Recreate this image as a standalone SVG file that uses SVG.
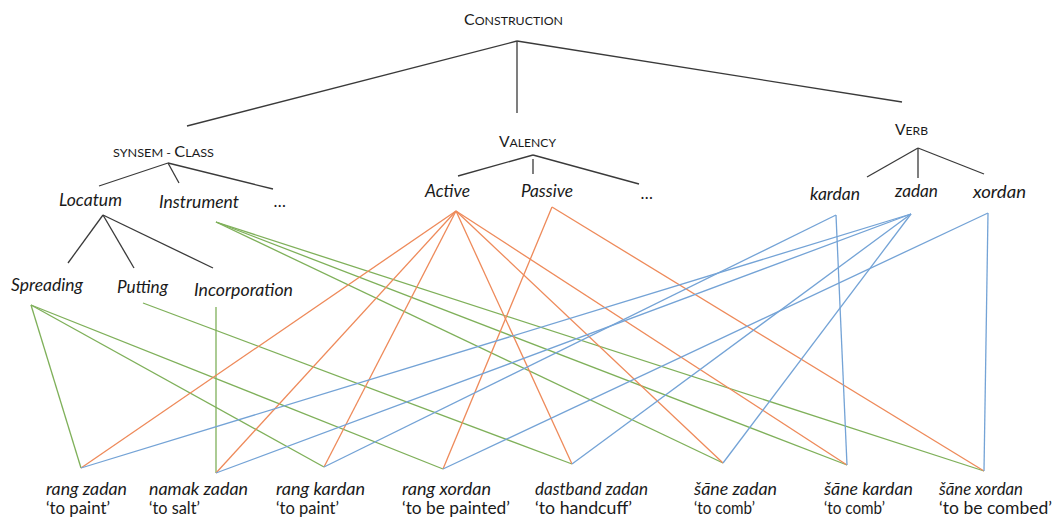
<svg xmlns="http://www.w3.org/2000/svg" width="1061" height="522" viewBox="0 0 1061 522">
<style>
text{font-family:Lato,"Open Sans","Liberation Sans",sans-serif;fill:#1a1a1a}
.sc{font-size:15.5px}
.sm{font-size:12px}
.it{font-size:16.5px;font-style:italic}
.bl{font-size:17px;font-style:italic}
.gl{font-size:17px}
.tree line{stroke:#3a3a3a;stroke-width:1.3}
.g{stroke:#7fb05a;stroke-width:1.3;fill:none}
.o{stroke:#ee8a5a;stroke-width:1.3;fill:none}
.b{stroke:#74a3d6;stroke-width:1.3;fill:none}
</style>
<rect width="1061" height="522" fill="#ffffff"/>
<g id="tree-edges" class="tree">
<line x1="517" y1="41" x2="187" y2="126"/>
<line x1="517" y1="41" x2="517" y2="113"/>
<line x1="517" y1="41" x2="902" y2="102"/>
<line x1="168" y1="163" x2="99" y2="186"/>
<line x1="168" y1="163" x2="179" y2="183"/>
<line x1="168" y1="163" x2="273" y2="189"/>
<line x1="103" y1="215" x2="68" y2="263"/>
<line x1="103" y1="215" x2="134" y2="268"/>
<line x1="103" y1="215" x2="213" y2="268"/>
<line x1="533" y1="155" x2="458" y2="176"/>
<line x1="533" y1="159" x2="533" y2="174"/>
<line x1="533" y1="155" x2="639" y2="184"/>
<line x1="918" y1="148" x2="867" y2="177"/>
<line x1="918" y1="148" x2="918" y2="178"/>
<line x1="918" y1="148" x2="984" y2="174"/>
</g>
<g id="connectors">
<g id="green">
<line class="g" x1="31" y1="305" x2="81" y2="468"/>
<line class="g" x1="31" y1="305" x2="324" y2="467"/>
<line class="g" x1="31" y1="305" x2="443" y2="469"/>
<line class="g" x1="143" y1="303" x2="572" y2="464"/>
<line class="g" x1="216" y1="307" x2="216" y2="473"/>
<line class="g" x1="216" y1="222" x2="723" y2="463"/>
<line class="g" x1="216" y1="222" x2="847" y2="465"/>
<line class="g" x1="216" y1="222" x2="984" y2="471"/>
</g>
<g id="orange">
<line class="o" x1="456" y1="211" x2="81" y2="468"/>
<line class="o" x1="456" y1="211" x2="216" y2="473"/>
<line class="o" x1="456" y1="211" x2="324" y2="467"/>
<line class="o" x1="456" y1="211" x2="572" y2="464"/>
<line class="o" x1="456" y1="211" x2="723" y2="463"/>
<line class="o" x1="456" y1="211" x2="847" y2="465"/>
<line class="o" x1="552" y1="207" x2="443" y2="469"/>
<line class="o" x1="552" y1="207" x2="984" y2="471"/>
</g>
<g id="blue">
<line class="b" x1="836" y1="215" x2="324" y2="467"/>
<line class="b" x1="836" y1="215" x2="847" y2="465"/>
<line class="b" x1="911" y1="214" x2="81" y2="468"/>
<line class="b" x1="911" y1="214" x2="216" y2="473"/>
<line class="b" x1="911" y1="214" x2="572" y2="464"/>
<line class="b" x1="911" y1="214" x2="723" y2="463"/>
<line class="b" x1="988" y1="213" x2="443" y2="469"/>
<line class="b" x1="988" y1="213" x2="984" y2="471"/>
</g>
</g>
<g id="n-construction"><text x="464" y="25" textLength="99" lengthAdjust="spacingAndGlyphs"><tspan class="sc">C</tspan><tspan class="sm">ONSTRUCTION</tspan></text></g>
<g id="n-synsem"><text x="113" y="157" textLength="101" lengthAdjust="spacingAndGlyphs"><tspan class="sm">SYNSEM - </tspan><tspan class="sc">C</tspan><tspan class="sm">LASS</tspan></text></g>
<g id="n-valency"><text x="499" y="147" textLength="57" lengthAdjust="spacingAndGlyphs"><tspan class="sc">V</tspan><tspan class="sm">ALENCY</tspan></text></g>
<g id="n-verb"><text x="895" y="135" textLength="33" lengthAdjust="spacingAndGlyphs"><tspan class="sc">V</tspan><tspan class="sm">ERB</tspan></text></g>
<g id="n-locatum"><text class="it" x="59" y="206" textLength="63" lengthAdjust="spacingAndGlyphs">Locatum</text></g>
<g id="n-instrument"><text class="it" x="159" y="208" textLength="80" lengthAdjust="spacingAndGlyphs">Instrument</text></g>
<g id="n-class-more"><text class="it" x="274" y="207">…</text></g>
<g id="n-spreading"><text class="it" x="11" y="291" textLength="72" lengthAdjust="spacingAndGlyphs">Spreading</text></g>
<g id="n-putting"><text class="it" x="117" y="293" textLength="51" lengthAdjust="spacingAndGlyphs">Putting</text></g>
<g id="n-incorporation"><text class="it" x="194" y="296" textLength="99" lengthAdjust="spacingAndGlyphs">Incorporation</text></g>
<g id="n-active"><text class="it" x="425" y="197" textLength="45" lengthAdjust="spacingAndGlyphs">Active</text></g>
<g id="n-passive"><text class="it" x="521" y="197" textLength="52" lengthAdjust="spacingAndGlyphs">Passive</text></g>
<g id="n-valency-more"><text class="it" x="641" y="199">…</text></g>
<g id="n-kardan"><text class="it" x="810" y="200" textLength="50" lengthAdjust="spacingAndGlyphs">kardan</text></g>
<g id="n-zadan"><text class="it" x="895" y="197" textLength="43" lengthAdjust="spacingAndGlyphs">zadan</text></g>
<g id="n-xordan"><text class="it" x="973" y="198" textLength="53" lengthAdjust="spacingAndGlyphs">xordan</text></g>
<g id="n-rang-zadan"><text class="bl" x="46" y="495" textLength="81" lengthAdjust="spacingAndGlyphs">rang zadan</text><text class="gl" x="46" y="514" textLength="64" lengthAdjust="spacingAndGlyphs">‘to paint’</text></g>
<g id="n-namak-zadan"><text class="bl" x="149" y="495" textLength="99" lengthAdjust="spacingAndGlyphs">namak zadan</text><text class="gl" x="149" y="514" textLength="51" lengthAdjust="spacingAndGlyphs">‘to salt’</text></g>
<g id="n-rang-kardan"><text class="bl" x="276" y="495" textLength="89" lengthAdjust="spacingAndGlyphs">rang kardan</text><text class="gl" x="276" y="514" textLength="63" lengthAdjust="spacingAndGlyphs">‘to paint’</text></g>
<g id="n-rang-xordan"><text class="bl" x="402" y="495" textLength="89" lengthAdjust="spacingAndGlyphs">rang xordan</text><text class="gl" x="402" y="514" textLength="108" lengthAdjust="spacingAndGlyphs">‘to be painted’</text></g>
<g id="n-dastband-zadan"><text class="bl" x="535" y="495" textLength="113" lengthAdjust="spacingAndGlyphs">dastband zadan</text><text class="gl" x="535" y="514" textLength="97" lengthAdjust="spacingAndGlyphs">‘to handcuff’</text></g>
<g id="n-sane-zadan"><text class="bl" x="694" y="495" textLength="83" lengthAdjust="spacingAndGlyphs">šāne zadan</text><text class="gl" x="694" y="514" textLength="61" lengthAdjust="spacingAndGlyphs">‘to comb’</text></g>
<g id="n-sane-kardan"><text class="bl" x="824" y="495" textLength="89" lengthAdjust="spacingAndGlyphs">šāne kardan</text><text class="gl" x="824" y="514" textLength="61" lengthAdjust="spacingAndGlyphs">‘to comb’</text></g>
<g id="n-sane-xordan"><text class="bl" x="939" y="495" textLength="84" lengthAdjust="spacingAndGlyphs">šāne xordan</text><text class="gl" x="939" y="514" textLength="113" lengthAdjust="spacingAndGlyphs">‘to be combed’</text></g>
</svg>
